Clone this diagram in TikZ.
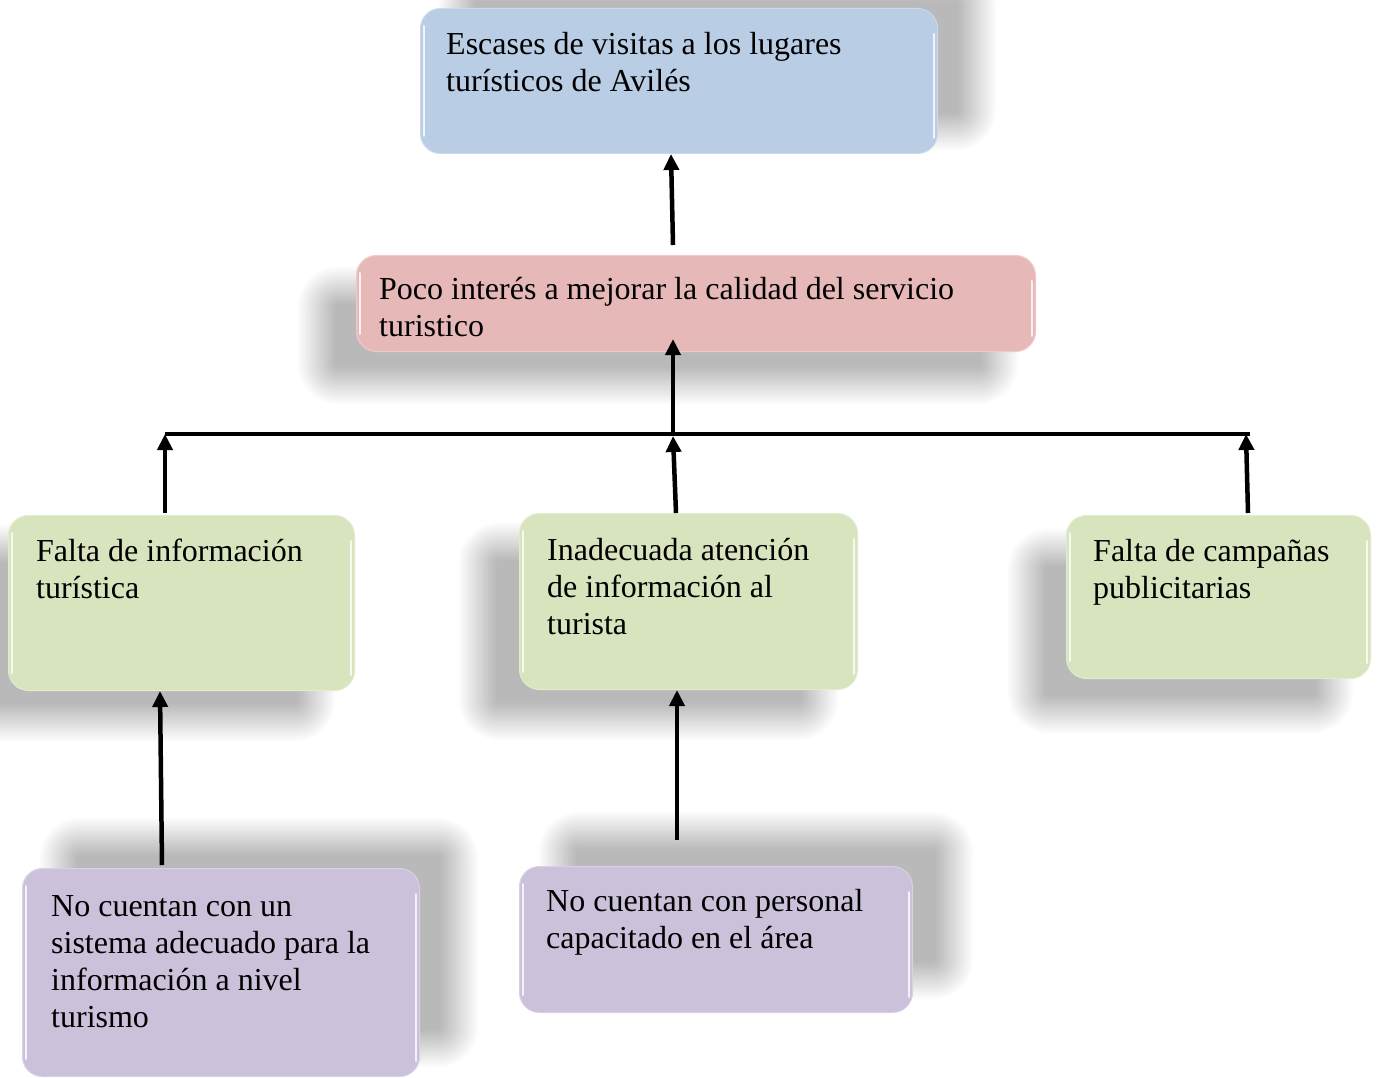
\documentclass[tikz,border=0pt]{standalone}
\usepackage{fontspec}
\setmainfont{Liberation Serif}
\usetikzlibrary{arrows.meta,calc}

\definecolor{effblue}{HTML}{B9CDE5}
\definecolor{causered}{HTML}{E6B9B8}
\definecolor{subgreen}{HTML}{D7E4BD}
\definecolor{rootviolet}{HTML}{CCC1DA}

\pgfdeclarelayer{shade}
\pgfsetlayers{shade,main}

\tikzset{
  card/.style={rounded corners=20pt, inner sep=0pt, anchor=north west,
    line width=1pt, draw=#1!75!white, fill=#1},
  txt/.style={inner sep=0pt, anchor=north west, align=left,
    font=\fontsize{32}{36.8}\selectfont},
  arr/.style={line width=4.5pt, -{Triangle[width=15pt,length=16pt]}},
  bar/.style={line width=4.5pt},
  gloss/.style={white, line width=2pt, opacity=0.8, line cap=round}
}

% soft drop shadow behind a card: node name, x offset, y offset (y grows downwards)
\newcommand\softdrop[3]{%
  \begin{pgfonlayer}{shade}
    \foreach \i in {0,...,17}{
      \pgfmathsetmacro\ee{20-2.2*\i}
      \pgfmathsetmacro\rr{max(20+\ee,2)}
      \fill[black, opacity=0.017, rounded corners=\rr pt]
        ($(#1.north west)+(#2-\ee,#3-\ee)$) rectangle ($(#1.south east)+(#2+\ee,#3+\ee)$);
    }
  \end{pgfonlayer}}

\begin{document}
\begin{tikzpicture}[x=1pt, y=-1pt]
\begin{pgfonlayer}{shade}
  \fill[white] (0,0) rectangle (1382,1078);
\end{pgfonlayer}
\useasboundingbox (0,0) rectangle (1382,1078);

% boxes
\node[card=effblue, minimum width=517pt, minimum height=145pt] (efecto) at (420,8) {};
\node[card=causered, minimum width=679pt, minimum height=96pt] (causa) at (356,255) {};
\node[card=subgreen, minimum width=346pt, minimum height=175pt] (infoL) at (8,515) {};
\node[card=subgreen, minimum width=338pt, minimum height=176pt] (infoM) at (519,513) {};
\node[card=subgreen, minimum width=304pt, minimum height=163pt] (infoR) at (1066,515) {};
\node[card=rootviolet, minimum width=397pt, minimum height=208pt] (raizL) at (22,868) {};
\node[card=rootviolet, minimum width=393pt, minimum height=146pt] (raizM) at (519,866) {};

% drop shadows
\softdrop{efecto}{38}{-24}
\softdrop{causa}{-38}{32}
\softdrop{infoL}{-40}{30}
\softdrop{infoM}{-40}{30}
\softdrop{infoR}{-38}{34}
\softdrop{raizL}{38}{-30}
\softdrop{raizM}{40}{-34}

% glossy edge highlights
\foreach \b in {efecto,causa,infoL,infoM,infoR,raizL,raizM}{
  \draw[gloss] ($(\b.north west)+(4,18)$) -- ($(\b.south west)+(4,-18)$);
  \draw[gloss] ($(\b.north east)+(-4,26)$) -- ($(\b.south east)+(-4,-16)$);
}

% labels
\node[txt] (tefecto) at ($(efecto.north west)+(26,21)$) {\strut Escases de visitas a los lugares\\tur\'isticos de Avil\'es};
\node[txt] (tcausa) at ($(causa.north west)+(23,19)$) {\strut Poco inter\'es a mejorar la calidad del servicio\\turistico};
\node[txt] (tinfoL) at ($(infoL.north west)+(28,21)$) {\strut Falta de informaci\'on\\tur\'istica};
\node[txt] (tinfoM) at ($(infoM.north west)+(28,22)$) {\strut Inadecuada atenci\'on\\de informaci\'on al\\turista};
\node[txt] (tinfoR) at ($(infoR.north west)+(27,21)$) {\strut Falta de campa\~nas\\publicitarias};
\node[txt] (traizL) at ($(raizL.north west)+(29,23)$) {\strut No cuentan con un\\sistema adecuado para la\\informaci\'on a nivel\\turismo};
\node[txt] (traizM) at ($(raizM.north west)+(27,20)$) {\strut No cuentan con personal\\capacitado en el \'area};

% collecting bar
\coordinate (barL) at (165,434);
\coordinate (barM) at (673,434);
\coordinate (barR) at (1250,434);
\draw[bar] (barL) -- (barR);

% connectors
\draw[arr] ($(causa.north west)+(317,-10)$) -- ($(efecto.south west)+(251,0)$);
\draw[arr] (barM) -- ($(causa.south west)+(317,-13)$);
\draw[arr] ($(infoL.north west)+(157,-2)$) -- (barL);
\draw[arr] ($(infoM.north west)+(157,0)$) -- ($(barM)+(0,2)$);
\draw[arr] ($(infoR.north west)+(182,-2)$) -- ($(barR)+(-4,0)$);
\draw[arr] ($(raizL.north west)+(140,-3)$) -- ($(infoL.south west)+(152,0)$);
\draw[arr] ($(raizM.north west)+(158,-26)$) -- ($(infoM.south west)+(158,0)$);
\end{tikzpicture}
\end{document}
